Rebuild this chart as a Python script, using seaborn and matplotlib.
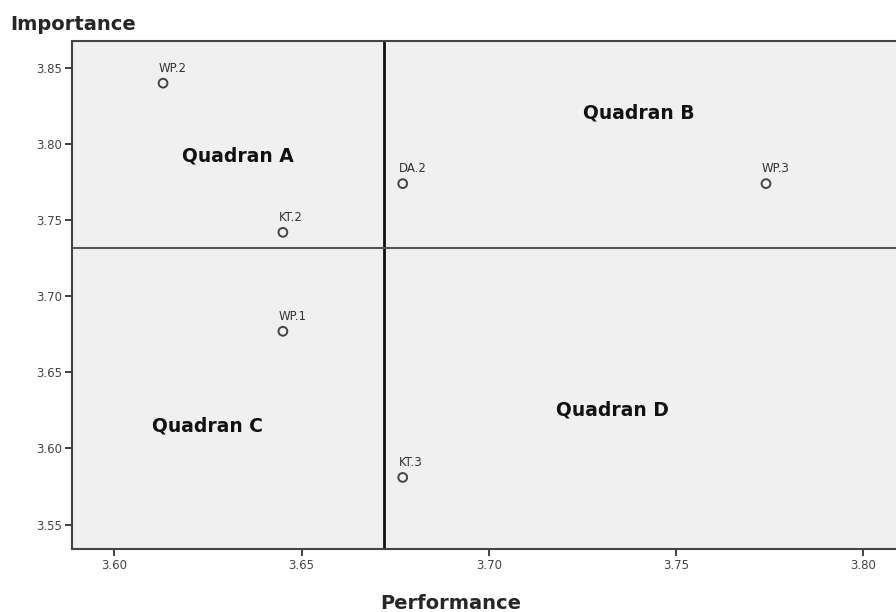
import pandas as pd
import numpy as np
import matplotlib.pyplot as plt
import seaborn as sns

# datos del grafico IPA
labels = ["WP.2", "KT.2", "DA.2", "WP.3", "WP.1", "KT.3"]
performance = [3.613, 3.645, 3.677, 3.774, 3.645, 3.677]
importance = [3.840, 3.742, 3.774, 3.774, 3.677, 3.581]
mean_perf = 3.672
mean_imp = 3.732

quad_names = ["Quadran A", "Quadran B", "Quadran C", "Quadran D"]
quad_x = [3.633, 3.740, 3.625, 3.733]
quad_y = [3.792, 3.8205, 3.6145, 3.6255]

data = pd.DataFrame({"label": labels, "performance": performance, "importance": importance})

sns.set_style("white")
plt.rcParams["font.family"] = ["DejaVu Sans"]

fig = plt.figure(figsize=(8.96, 6.12), dpi=100)
ax = fig.add_axes([0.0804, 0.103, 0.93, 0.830])
ax.set_facecolor("#f0f0f0")

sns.scatterplot(data=data, x="performance", y="importance", ax=ax,
                marker="o", s=40, facecolor="none", edgecolor="#444444", linewidth=1.4)

for _, r in data.iterrows():
    ax.annotate(r["label"], (r["performance"], r["importance"]), xytext=(-3, 6),
                textcoords="offset points", fontsize=8.5, color="#333333",
                ha="left", va="bottom")

# lineas de cuadrantes
ax.axvline(mean_perf, color="#111111", lw=2)
ax.axhline(mean_imp, color="#555555", lw=1.5)

for name, qx, qy in zip(quad_names, quad_x, quad_y):
    ax.text(qx, qy, name, fontsize=13.5, fontweight="bold", color="#111111",
            ha="center", va="center")

ax.set_xlim(3.5887, 3.8112)
ax.set_ylim(3.534, 3.8677)
ax.set_xticks([3.60, 3.65, 3.70, 3.75, 3.80])
ax.set_yticks([3.55, 3.60, 3.65, 3.70, 3.75, 3.80, 3.85])
ax.xaxis.set_major_formatter(plt.FormatStrFormatter("%.2f"))
ax.yaxis.set_major_formatter(plt.FormatStrFormatter("%.2f"))
ax.tick_params(axis="both", which="major", direction="out", length=5, width=1.3,
               color="#333333", labelsize=8.5, labelcolor="#444444", pad=2,
               bottom=True, left=True)
for sp in ax.spines.values():
    sp.set_color("#444444")
    sp.set_linewidth(1.5)

ax.set_xlabel("")
ax.set_ylabel("")
fig.text(0.011, 0.96, "Importance", fontsize=14, fontweight="bold", ha="left", va="center")
fig.text(0.503, 0.014, "Performance", fontsize=14, fontweight="bold", ha="center", va="center")

fig.savefig("out.png", dpi=100)
